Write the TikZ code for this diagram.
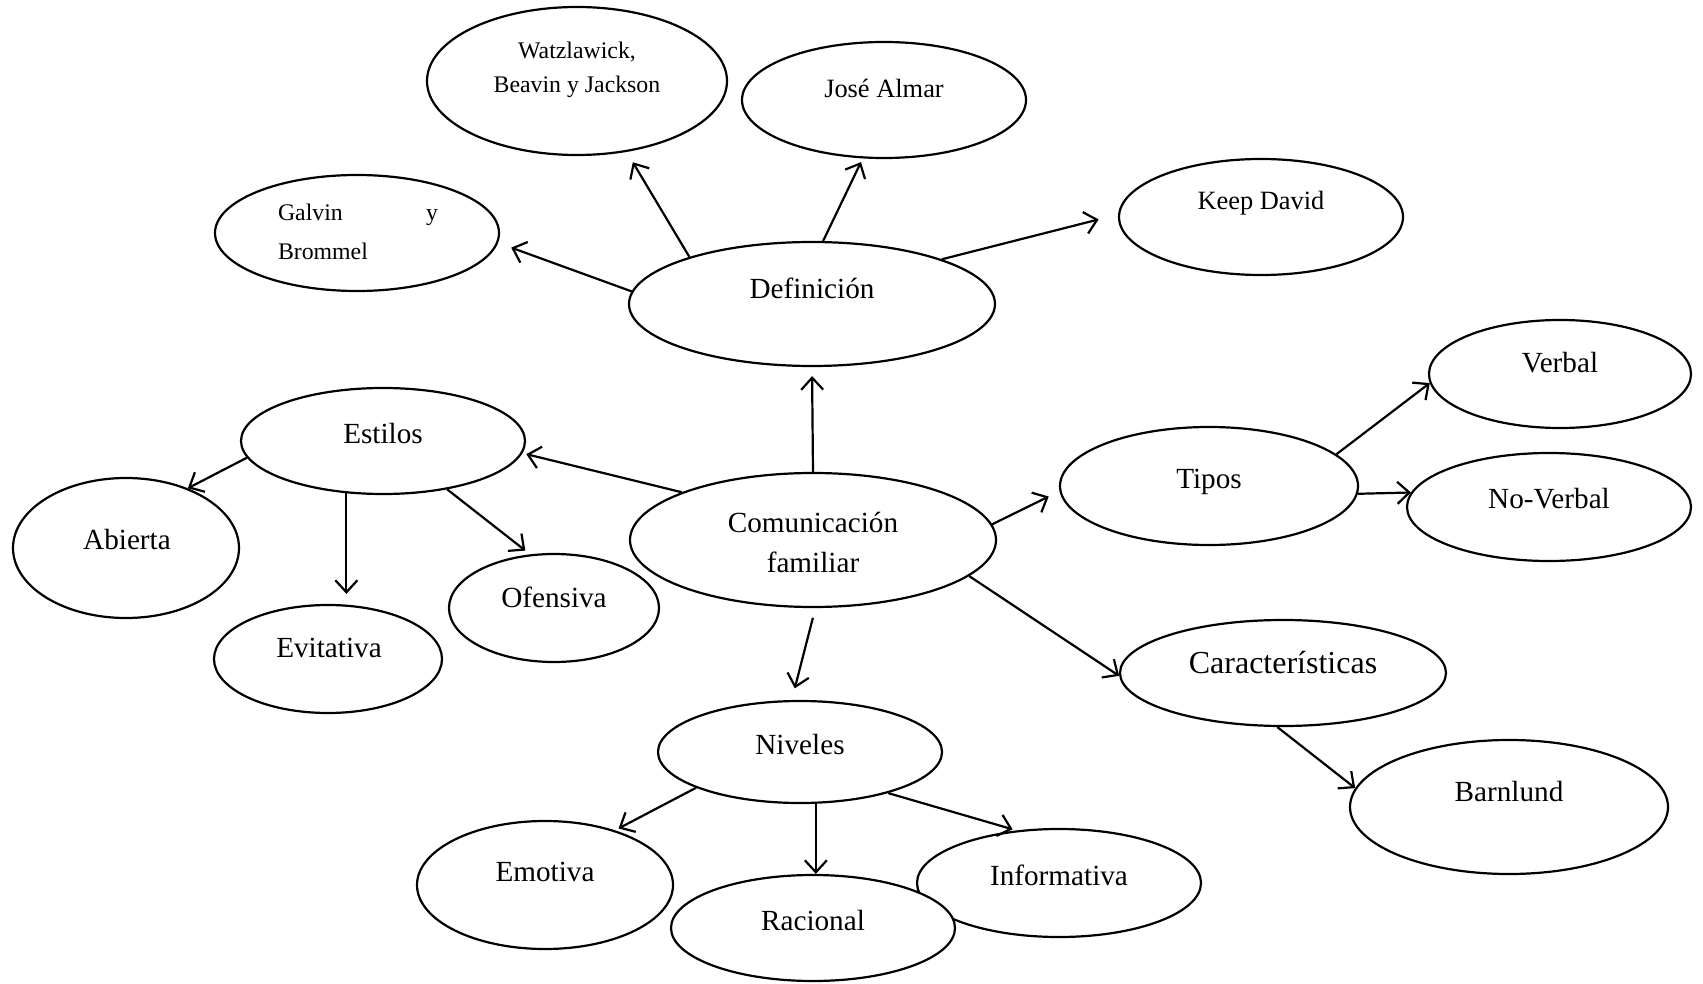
\documentclass[tikz,border=0pt]{standalone}
\usepackage{fontspec}
\setmainfont{Liberation Serif}
\usetikzlibrary{shapes.geometric, arrows.meta}

\tikzstyle{bubble}=[draw, ellipse, line width=1.1pt, fill=white, inner sep=0pt]
\tikzstyle{word}=[inner sep=0pt, align=center, font=\fontsize{14.6}{17.5}\selectfont]
\tikzstyle{midword}=[word, font=\fontsize{13.2}{16}\selectfont]
\tikzstyle{smallword}=[word, font=\fontsize{11.9}{17}\selectfont]
\tikzstyle{link}=[line width=1.1pt, -{Straight Barb[length=6pt,width=11pt]}]

\begin{document}
\begin{tikzpicture}[x=0.5pt, y=-0.5pt]
	% Background, frame
	\useasboundingbox[fill=white] (0,0) rectangle (1703,984);

	% Ellipses (name/x/y/width/height, all in pixels of the page)
	\foreach \n/\x/\y/\w/\h in {watz/577/81/300/148, jose/884/100/284/116,
		galvin/357/233/284/116, keep/1261/217/284/116, def/812/304/366/124,
		est/383/441/284/106, abi/126/548/226/140, evi/328/659/228/108,
		ofe/554/608/210/108, com/813/540/366/134, tip/1209/486/298/118,
		ver/1560/374/262/108, nov/1549/507/284/108, car/1283/673/326/106,
		bar/1509/807/318/134, niv/800/752/284/102, emo/545/885/256/128,
		inf/1059/883/284/108, rac/813/928/284/106} {
		\node[bubble, minimum width=0.5pt*\w, minimum height=0.5pt*\h] (\n) at (\x,\y) {};
	}

	% Labels
	\node[smallword] (watz-t) at (577,70) {Watzlawick,\\Beavin y Jackson};
	\node[midword] (jose-t) at (884,88) {José Almar};
	\node[smallword, align=left, text width=80pt,
		font=\fontsize{11.9}{19.5}\selectfont] (galvin-t) at (358,232) {Galvin\hfill y\\Brommel};
	\node[midword] (keep-t) at (1261,203) {Keep David};
	\node[word] (def-t) at (812,288) {Definición};
	\node[word] (est-t) at (383,434) {Estilos};
	\node[word] (abi-t) at (127,540) {Abierta};
	\node[word] (evi-t) at (329,648) {Evitativa};
	\node[word] (ofe-t) at (554,597) {Ofensiva};
	\node[word, font=\fontsize{14.6}{20}\selectfont] (com-t) at (813,542) {Comunicación\\familiar};
	\node[word] (tip-t) at (1209,482) {Tipos};
	\node[word] (ver-t) at (1560,363) {Verbal};
	\node[word] (nov-t) at (1549,499) {No-Verbal};
	\node[word, font=\fontsize{16}{19}\selectfont] (car-t) at (1283,663) {Características};
	\node[word] (bar-t) at (1509,792) {Barnlund};
	\node[word] (niv-t) at (800,745) {Niveles};
	\node[word] (emo-t) at (545,872) {Emotiva};
	\node[word] (inf-t) at (1059,875) {Informativa};
	\node[word] (rac-t) at (813,921) {Racional};

	% Arrows (from/to/shorten start/shorten end)
	\foreach \a/\b/\s/\e in {def.176/galvin.-4/0pt/7pt, def.159/watz.-55/0pt/6pt,
		def.80/jose.-110/0pt/2pt, def.19/keep.179/0pt/10pt,
		com.north/def.south/0pt/4.5pt, com.160/est.-5/0pt/2pt,
		est.187/abi.44/0pt/0pt, est.-125/est.-125 |- evi.north/0pt/5pt,
		est.-37/ofe.114/0pt/3pt, com.5/tip.182/0pt/6pt,
		tip.14/ver.184/0pt/0pt, tip.-3/nov.174/0pt/0pt,
		com.-13/car.181/0pt/0pt, com.-88/niv.99/5pt/6pt,
		car.-96/bar.173/0pt/0pt, niv.199/emo.38/0pt/2pt,
		niv.-73/niv.-73 |- rac.north/0pt/0pt, niv.-25/inf.129/0pt/2pt} {
		\draw[link, shorten <=\s, shorten >=\e] (\a) -- (\b);
	}

\end{tikzpicture}
\end{document}
